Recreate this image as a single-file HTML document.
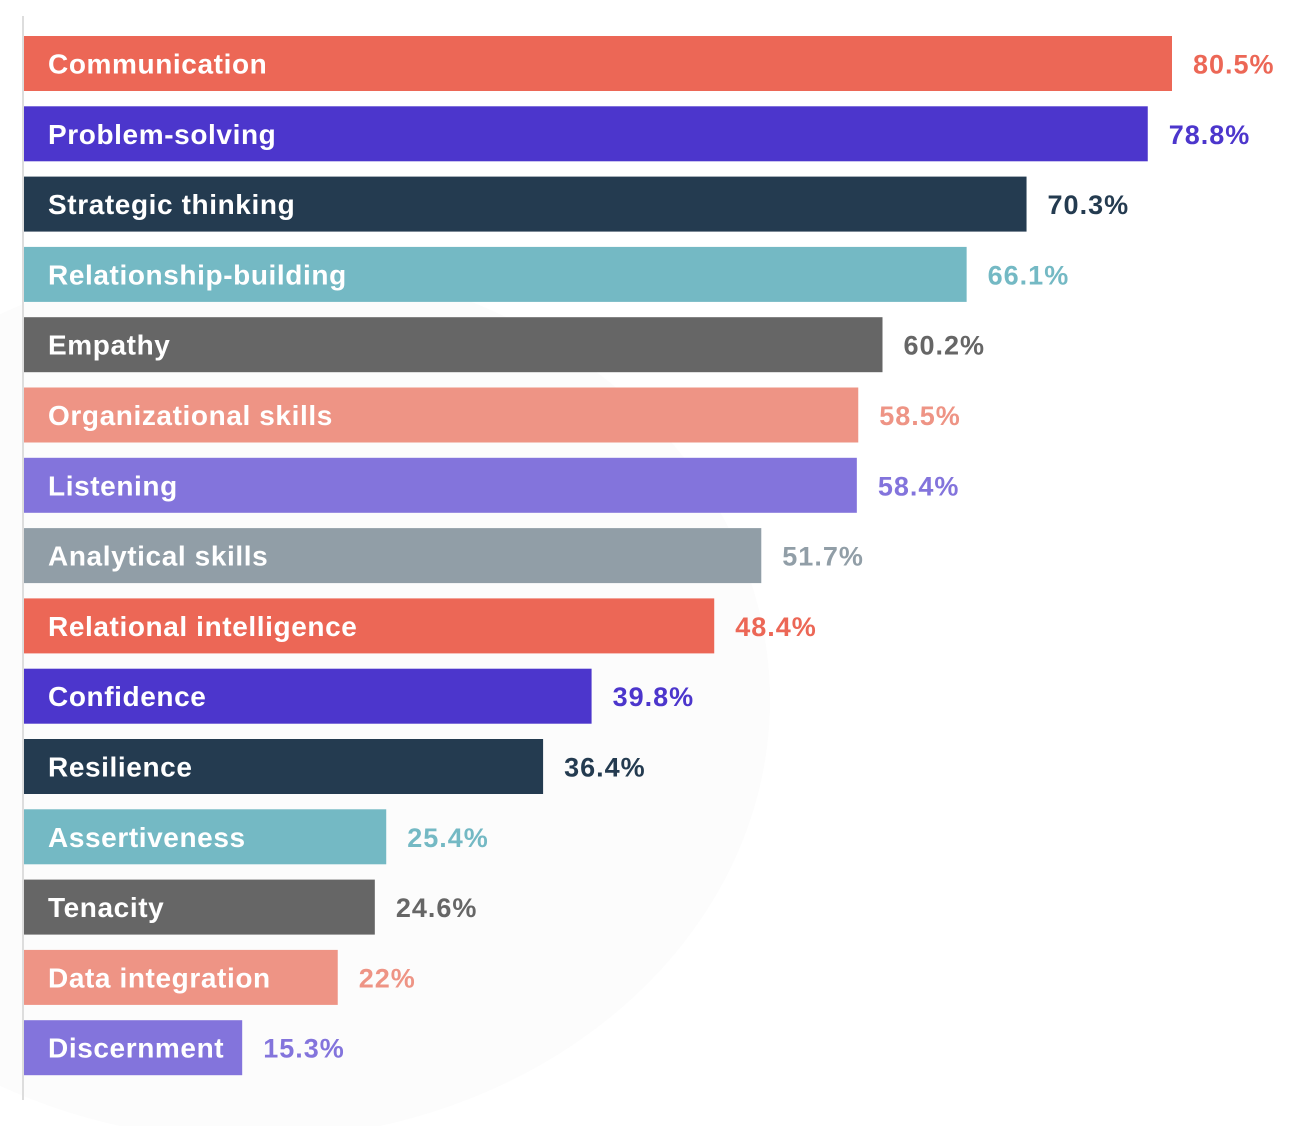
<!DOCTYPE html>
<html><head><meta charset="utf-8"><style>
html,body{margin:0;padding:0;background:#fff;}
svg{display:block;}
text{font-family:"Liberation Sans",sans-serif;font-weight:bold;}
</style></head><body>
<svg id="chart" width="1312" height="1126" viewBox="0 0 1312 1126" xmlns="http://www.w3.org/2000/svg">
<ellipse cx="250" cy="700" rx="520" ry="440" fill="#fcfcfc"/>
<line x1="23" y1="16" x2="23" y2="1100" stroke="#dddddd" stroke-width="2"/>
<g id="bars"></g>
</svg>
<script>
const categories = ["Communication","Problem-solving","Strategic thinking","Relationship-building","Empathy","Organizational skills","Listening","Analytical skills","Relational intelligence","Confidence","Resilience","Assertiveness","Tenacity","Data integration","Discernment"];
const values = [80.5,78.8,70.3,66.1,60.2,58.5,58.4,51.7,48.4,39.8,36.4,25.4,24.6,22,15.3];
const valueLabels = ["80.5%","78.8%","70.3%","66.1%","60.2%","58.5%","58.4%","51.7%","48.4%","39.8%","36.4%","25.4%","24.6%","22%","15.3%"];
const palette = ["#EC6756","#4C36CC","#243B50","#74B9C4","#666666","#EE9485","#8374DC","#919EA7"];

const x0 = 24, pxPerUnit = (1172 - 24) / 80.5;
const xScale = v => x0 + v * pxPerUnit;
const yTop = 36, pitch = 70.3, barH = 55;
const yScale = i => yTop + i * pitch;
const NS = "http://www.w3.org/2000/svg";
const g = document.getElementById("bars");
categories.forEach((c, i) => {
  const col = palette[i % palette.length];
  const y = yScale(i);
  const w = xScale(values[i]) - x0;
  const r = document.createElementNS(NS, "rect");
  r.setAttribute("x", x0); r.setAttribute("y", y);
  r.setAttribute("width", w); r.setAttribute("height", barH);
  r.setAttribute("fill", col);
  
  
  g.appendChild(r);
  const t = document.createElementNS(NS, "text");
  t.setAttribute("x", 48); t.setAttribute("y", y + barH / 2 + 10);
  t.setAttribute("font-size", "28"); t.setAttribute("letter-spacing", "0.6"); t.setAttribute("fill", "#ffffff");
  t.textContent = c;
  
  
  g.appendChild(t);
  const v = document.createElementNS(NS, "text");
  v.setAttribute("x", xScale(values[i]) + 21); v.setAttribute("y", y + barH / 2 + 10);
  v.setAttribute("font-size", "27"); v.setAttribute("letter-spacing", "1"); v.setAttribute("fill", col);
  v.textContent = valueLabels[i];
  
  
  g.appendChild(v);
});
</script>
</body></html>
